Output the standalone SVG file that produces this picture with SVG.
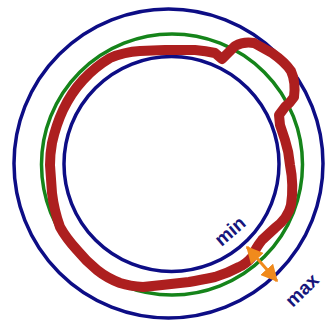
<svg xmlns="http://www.w3.org/2000/svg" width="327" height="325" viewBox="0 0 327 325">
<style>
.blue{fill:none;stroke:#0d0d85;stroke-width:3.5}
.green{fill:none;stroke:#15841a;stroke-width:3.5}
.red{fill:none;stroke:#ad1f1f;stroke-width:10;stroke-linejoin:round;stroke-linecap:round}
.arrow{stroke:#f08a1c;stroke-width:3}
.lbl{font-family:"Liberation Sans",Arial,sans-serif;font-size:19px;font-weight:bold;fill:#16167c;text-anchor:middle;dominant-baseline:central}
</style>
<defs>
<marker id="ah" viewBox="0 0 12 12" refX="11" refY="6" markerWidth="17" markerHeight="17" markerUnits="userSpaceOnUse" orient="auto-start-reverse">
<path d="M0,0 L12,6 L0,12 z" fill="#f08a1c"/>
</marker>
</defs>
<g id="outer-max"><circle class="blue" cx="168.5" cy="163.5" r="154.5"/></g>
<g id="inner-min"><circle class="blue" cx="171.5" cy="164" r="107.5"/></g>
<g id="nominal"><circle class="green" cx="172" cy="164.5" r="130.5"/></g>
<g id="profile"><path class="red" d="M222,59 L235,46 Q244,41 254,43 L272,53 Q285,62 291,71 Q296,82 294,97 Q290,103 285,107 L279,115 L280,125 L285,140 Q289,152 290,165 Q294,185 291,205 Q288,218 275,228 L262,240 Q255,249 252,257 Q246,264 239,267 Q228,273 215,277 Q200,280 189,282 L162,285 L143,287 Q130,286 120,283 Q107,278 97,270 Q86,261 77,250 Q66,238 60,227 Q54,210 52,193 L50,165 Q50,154 52,143 Q56,125 63,110 Q71,93 83,80 Q95,67 110,58 Q124,52 140,51 L165,50 L195,50 Q206,51 215,53 Z"/></g>
<g id="connectors"><line class="arrow" x1="247" y1="247" x2="277" y2="281" marker-start="url(#ah)" marker-end="url(#ah)"/></g>
<g id="label-min"><text class="lbl" transform="translate(230,231) rotate(-41)">min</text></g>
<g id="label-max"><text class="lbl" transform="translate(302,290) rotate(-44)">max</text></g>
</svg>
